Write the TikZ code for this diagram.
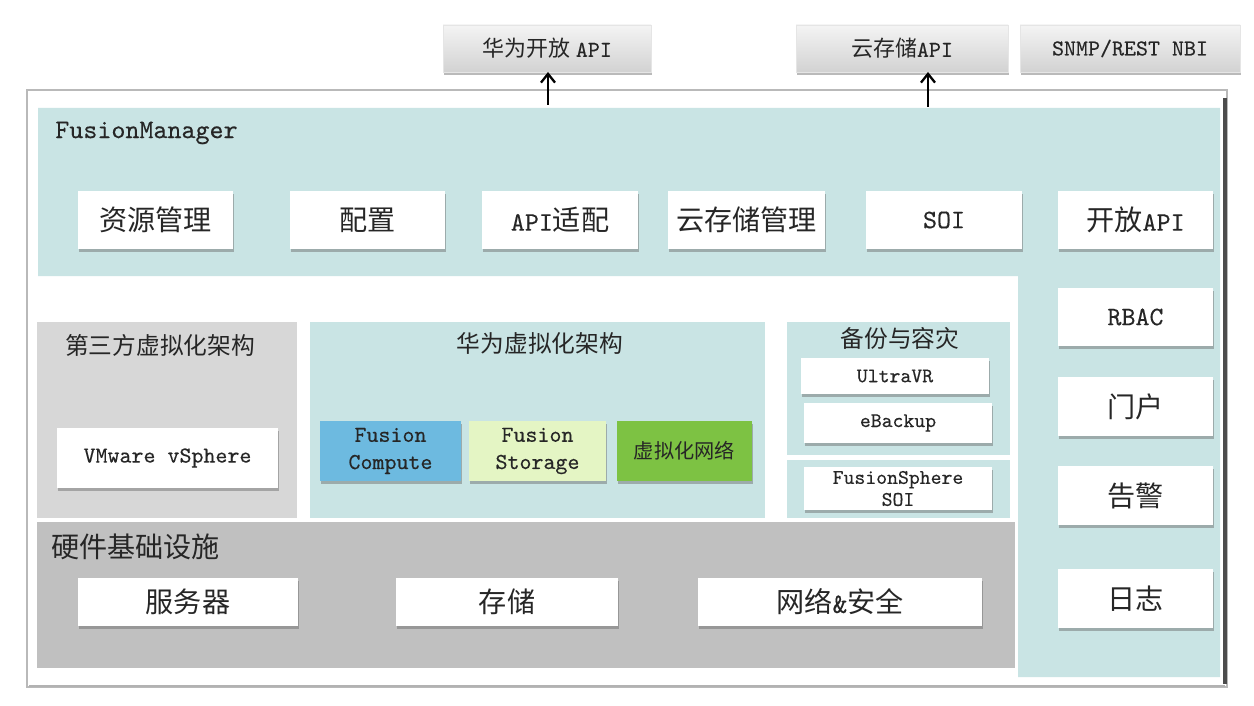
\documentclass[tikz,border=0pt]{standalone}
\usepackage{fontspec}
\setmonofont{lmmono10-regular}[Extension=.otf, FakeBold=0.3]
\newfontfamily\cjk{Noto Sans CJK SC}
\usetikzlibrary{shadows,arrows.meta}
\definecolor{tealbg}{HTML}{C9E4E4}
\definecolor{thirdbg}{HTML}{D7D7D7}
\definecolor{hwbg}{HTML}{C0C0C0}
\definecolor{fcblue}{HTML}{6DBAE0}
\definecolor{fsgreen}{HTML}{E4F5C4}
\definecolor{vngreen}{HTML}{7DC243}
\definecolor{txt}{HTML}{262626}
\definecolor{extT}{HTML}{F4F4F4}
\definecolor{extB}{HTML}{D2D2D2}
% CJK sizes / Latin sizes
\newcommand\myfA{\ttfamily\fontsize{16pt}{18pt}\selectfont}
\newcommand\myfL{\ttfamily\fontsize{15.2pt}{18pt}\selectfont}
\newcommand\myfB{\ttfamily\fontsize{13.5pt}{15pt}\selectfont}
\newcommand\myfM{\ttfamily\fontsize{13pt}{16pt}\selectfont}
\newcommand\myfC{\ttfamily\fontsize{12.5pt}{14pt}\selectfont}
\newcommand\myfD{\ttfamily\fontsize{11.5pt}{13pt}\selectfont}
\newcommand\myfS{\ttfamily\fontsize{11.8pt}{14.2pt}\selectfont}
\tikzset{
  sz/.style args={#1/#2}{minimum width=#1*0.02cm, minimum height=#2*0.02cm, inner sep=0pt, outer sep=0pt},
  shad/.style={drop shadow={shadow xshift=0.6pt, shadow yshift=-1.6pt, opacity=0.45, fill=gray!80!black}},
  wbox/.style={fill=white, draw=none, shad, text=txt, align=center},
  ext/.style={top color=extT, bottom color=extB, draw=gray!20, shad, text=txt, align=center},
  panel/.style={draw=none, inner sep=0pt, outer sep=0pt},
  ttl/.style={text=txt, inner sep=0pt},
  arr/.style={-{Straight Barb[length=5pt,width=8pt]}, line width=1.3pt, black},
}
\begin{document}
\begin{tikzpicture}[x=0.02cm, y=-0.02cm]
\useasboundingbox (0,0) rectangle (1254,706);
\fill[white] (0,0) rectangle (1254,706);

% outer frame
\node[panel, sz=1200/597, fill=white, draw=gray!55, line width=1.2pt] (frame) at (627,388.5) {};
\draw[line width=2.2pt, gray!60!black] (1225,98) -- (1225,684);
\draw[line width=1.5pt, gray!60] (29,686) -- (1225,686);

% FusionManager teal L-shape
\fill[tealbg] (38,108) -- (1220,108) -- (1220,677) -- (1018,677) -- (1018,276) -- (38,276) -- cycle;
\node[ttl, anchor=west] (fm) at (55,133) {\myfL FusionManager};

% top row
\node[wbox, sz=155/58] (zygl) at (155.5,220) {\myfA\cjk 资源管理};
\node[wbox, sz=155/58] (pz) at (367.5,220) {\myfA\cjk 配置};
\node[wbox, sz=156/58] (apisp) at (560,220) {\myfL API{\myfA\cjk 适配}};
\node[wbox, sz=157/58] (yccgl) at (746.5,220) {\myfA\cjk 云存储管理};
\node[wbox, sz=156/58] (soi) at (944,220) {\myfL SOI};
\node[wbox, sz=155/58] (kfapi) at (1135.5,220) {{\myfA\cjk 开放}\myfL API};

% right column
\node[wbox, sz=155/58] (rbac) at (1135.5,317) {\myfL RBAC};
\node[wbox, sz=155/59] (mh) at (1135.5,406.5) {\myfA\cjk 门户};
\node[wbox, sz=155/59] (gj) at (1135.5,495.5) {\myfA\cjk 告警};
\node[wbox, sz=155/59] (rz) at (1135.5,598.5) {\myfA\cjk 日志};

% third-party virtualization
\node[panel, sz=260/196, fill=thirdbg] (third) at (167,420) {};
\node[ttl] (thirdt) at (160,345) {\myfB\cjk 第三方虚拟化架构};
\node[wbox, sz=221/60] (vmw) at (167.5,458) {\myfM VMware vSphere};

% Huawei virtualization
\node[panel, sz=455/196, fill=tealbg] (hw) at (537.5,420) {};
\node[ttl] (hwt) at (540,343) {\myfB\cjk 华为虚拟化架构};
\node[panel, sz=141/60, fill=fcblue, shad, text=txt, align=center] (fc) at (390.5,451) {\myfM Fusion\\[3.5pt]\myfM Compute};
\node[panel, sz=137/60, fill=fsgreen, shad, text=txt, align=center] (fs) at (537.5,451) {\myfM Fusion\\[3.5pt]\myfM Storage};
\node[panel, sz=135/60, fill=vngreen, shad, text=txt] (vn) at (684.5,451) {\myfD\cjk 虚拟化网络};

% backup & DR
\node[panel, sz=223/133, fill=tealbg] (bk) at (898.5,388.5) {};
\node[ttl] (bkt) at (900,338) {\myfB\cjk 备份与容灾};
\node[wbox, sz=188/36] (uvr) at (895,376) {\myfS UltraVR};
\node[wbox, sz=188/40] (ebk) at (898,423) {\myfS eBackup};
\node[panel, sz=223/58, fill=tealbg] (fsp) at (898.5,489) {};
\node[wbox, sz=188/43] (fssoi) at (898,488.5) {\myfS FusionSphere\\[0.5pt]\myfS SOI};

% hardware
\node[panel, sz=978/146, fill=hwbg] (hwi) at (526,595) {};
\node[ttl, anchor=west] (hwit) at (51,547) {\myfA\cjk 硬件基础设施};
\node[wbox, sz=220/48] (srv) at (188,602) {\myfA\cjk 服务器};
\node[wbox, sz=222/48] (stor) at (507,602) {\myfA\cjk 存储};
\node[wbox, sz=284/48] (net) at (840,602) {\myfA{\cjk 网络}\&{\cjk 安全}};

% external interfaces
\node[ext, sz=208/47] (hwapi) at (547,48.5) {{\myfC\cjk 华为开放} \myfM API};
\node[ext, sz=212/47] (cloudapi) at (902,48.5) {{\myfC\cjk 云存储}\myfM API};
\node[ext, sz=220/47] (snmp) at (1130,48.5) {\myfM SNMP/REST NBI};

% arrows
\coordinate (a1) at (548,105);
\coordinate (a2) at (928,107);
\draw[arr] (a1) -- (a1 |- hwapi.south);
\draw[arr] (a2) -- (a2 |- cloudapi.south);
\end{tikzpicture}
\end{document}
